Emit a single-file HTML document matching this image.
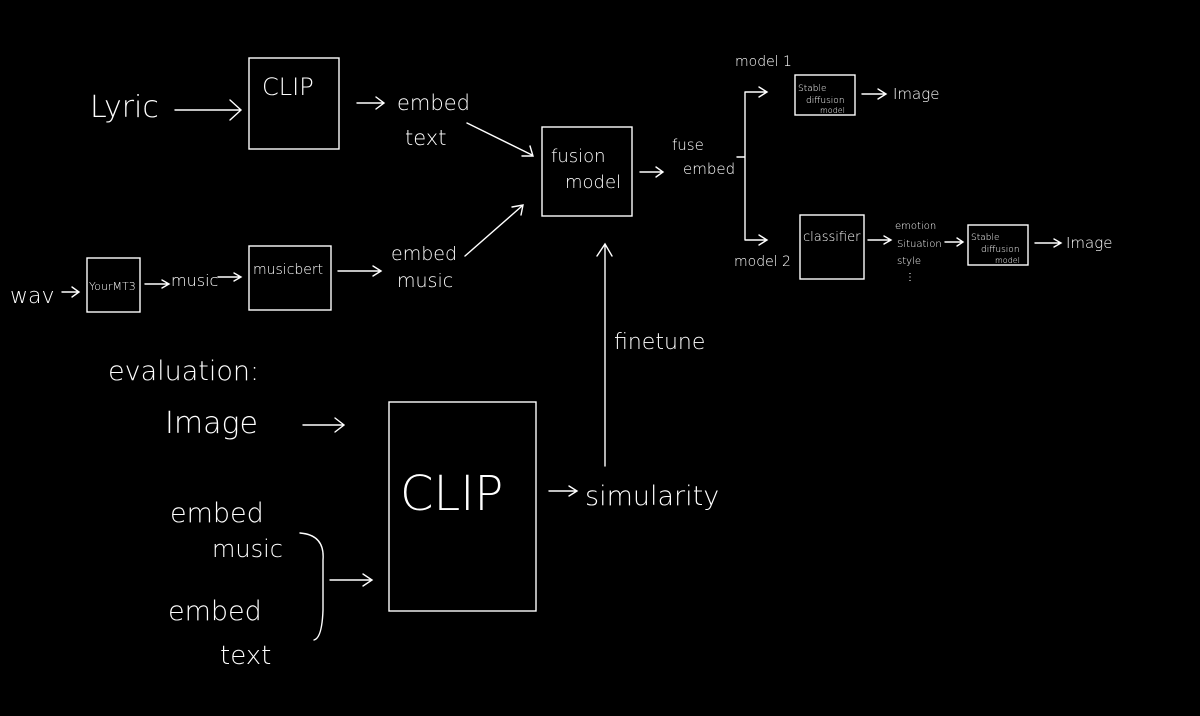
<!DOCTYPE html>
<html><head><meta charset="utf-8"><style>
html,body{margin:0;padding:0;background:#000;}
svg{display:block}
text{fill:#fff;font-family:"DejaVu Sans","Liberation Sans",sans-serif;font-weight:200}
</style></head><body>
<svg width="1200" height="716" viewBox="0 0 1200 716" xmlns="http://www.w3.org/2000/svg">
<g fill="none" stroke="#fff" stroke-width="1.4" stroke-linecap="round">
<rect x="249" y="58" width="90" height="91"/>
<rect x="542" y="127" width="90" height="89"/>
<rect x="249" y="246" width="82" height="64"/>
<rect x="87" y="258" width="53" height="54"/>
<rect x="795" y="75" width="60" height="40"/>
<rect x="800" y="215" width="64" height="64"/>
<rect x="968" y="225" width="60" height="40"/>
<rect x="389" y="402" width="147" height="209"/>
<!-- arrows -->
<path d="M175 110 H240 M230 100 L241 110 L230 120"/>
<path d="M357 103 H383 M376 97 L384 103 L376 109"/>
<path d="M467 123 L532 155 M522 156 L533 156 L530 146"/>
<path d="M465 256 L522 206 M512 207 L523 205 L521 215"/>
<path d="M640 172 H662 M656 167 L663 172 L656 177"/>
<path d="M737 157 H745 M745 92 V240 M745 92 H766 M759 87 L767 92 L759 97 M745 240 H766 M759 235 L767 240 L759 245"/>
<path d="M862 94 H885 M878 89 L886 94 L878 99"/>
<path d="M338 271 H380 M373 266 L381 271 L373 276"/>
<path d="M62 292 H78 M72 287 L79 292 L72 297"/>
<path d="M145 284 H168 M162 280 L169 284 L162 288"/>
<path d="M218 277 H240 M234 273 L241 277 L234 281"/>
<path d="M868 240 H890 M884 236 L891 240 L884 244"/>
<path d="M945 242 H962 M957 238 L963 242 L957 246"/>
<path d="M1035 243 H1060 M1054 239 L1061 243 L1054 247"/>
<path d="M605 466 V245 M597 256 L605 244 L612 256"/>
<path d="M549 491 H576 M569 486 L577 491 L569 496"/>
<path d="M303 425 H343 M335 418 L344 425 L335 432"/>
<path d="M300 533 Q325 535 323 560 V610 Q322 638 314 640"/>
<path d="M330 580 H371 M363 574 L372 580 L363 586"/>
</g>
<text x="90" y="117" font-size="30">Lyric</text>
<text x="262" y="95" font-size="24">CLIP</text>
<text x="397" y="110" font-size="21">embed</text>
<text x="405" y="145" font-size="21">text</text>
<text x="551" y="162" font-size="18">fusion</text>
<text x="565" y="188" font-size="18">model</text>
<text x="672" y="150" font-size="15">fuse</text>
<text x="683" y="174" font-size="15">embed</text>
<text x="735" y="66" font-size="14">model 1</text>
<text x="734" y="266" font-size="14">model 2</text>
<text x="798" y="91" font-size="9">Stable</text>
<text x="806" y="103" font-size="9">diffusion</text>
<text x="820" y="113" font-size="8">model</text>
<text x="893" y="99" font-size="15">Image</text>
<text x="803" y="241" font-size="13">classifier</text>
<text x="895" y="229" font-size="10">emotion</text>
<text x="897" y="247" font-size="10">Situation</text>
<text x="897" y="264" font-size="10">style</text>
<text x="905" y="280" font-size="10">⋮</text>
<text x="971" y="240" font-size="9">Stable</text>
<text x="981" y="252" font-size="9">diffusion</text>
<text x="995" y="263" font-size="8">model</text>
<text x="1066" y="248" font-size="15">Image</text>
<text x="10" y="303" font-size="22">wav</text>
<text x="89" y="290" font-size="11">YourMT3</text>
<text x="171" y="286" font-size="16">music</text>
<text x="253" y="274" font-size="14">musicbert</text>
<text x="391" y="260" font-size="19">embed</text>
<text x="397" y="287" font-size="19">music</text>
<text x="614" y="349" font-size="22">finetune</text>
<text x="108" y="380" font-size="27">evaluation:</text>
<text x="165" y="433" font-size="30">Image</text>
<text x="400" y="510" font-size="48">CLIP</text>
<text x="585" y="505" font-size="27">simularity</text>
<text x="170" y="522" font-size="27">embed</text>
<text x="212" y="557" font-size="24">music</text>
<text x="168" y="620" font-size="27">embed</text>
<text x="220" y="664" font-size="26">text</text>
</svg>
</body></html>
